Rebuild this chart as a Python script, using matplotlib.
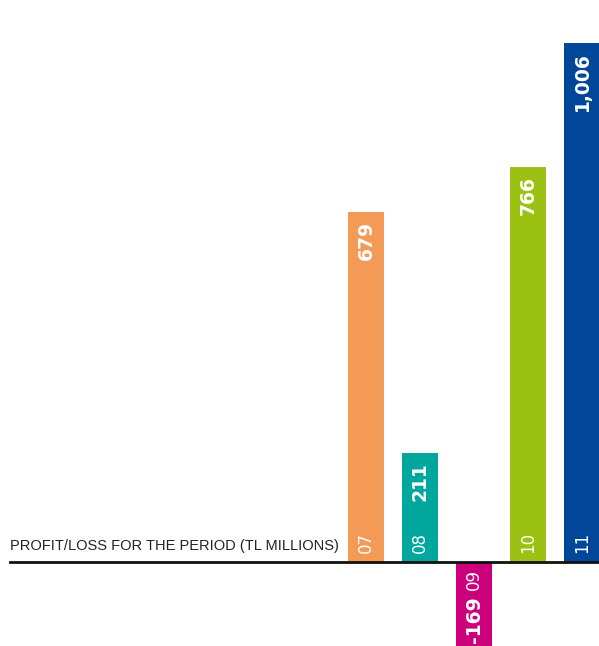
#!/usr/bin/env python3
import matplotlib
matplotlib.use("Agg")
import matplotlib.pyplot as plt

# profit/loss for the period, TL millions
years = ["07", "08", "09", "10", "11"]
values = [679, 211, -169, 766, 1006]
value_labels = ["679", "211", "-169", "766", "1,006"]
colors = ["#F39A57", "#00A79D", "#CC007A", "#9BC212", "#00479A"]
title = "PROFIT/LOSS FOR THE PERIOD (TL MILLIONS)"

W, H = 599, 646
BASE_PX = 562          # baseline, px from top
PX_PER_UNIT = 0.516    # vertical scale
BAR_STEP = 54          # px between bar centres
FIRST_CENTER = 366     # px of first bar centre


def main():
    fig = plt.figure(figsize=(W / 100, H / 100), dpi=100)
    ax = fig.add_axes([0, 0, 1, 1])
    ax.set_axis_off()

    ax.set_xlim(-FIRST_CENTER / BAR_STEP, (W - FIRST_CENTER) / BAR_STEP)
    ax.set_ylim(-(H - BASE_PX) / PX_PER_UNIT, BASE_PX / PX_PER_UNIT)

    xs = list(range(len(years)))
    ax.bar(xs, values, width=36 / BAR_STEP, color=colors, zorder=2)
    ax.axhline(0, xmin=10 / W, xmax=1, color="#111111", lw=2, zorder=3)

    gap = 9 / PX_PER_UNIT
    for x, v, lab, yr in zip(xs, values, value_labels, years):
        if v >= 0:
            ax.text(x, v - gap, lab, rotation=90, ha="center", va="top",
                    color="white", fontsize=13.5, fontweight="bold", zorder=4)
            ax.text(x, gap, yr, rotation=90, ha="center", va="bottom",
                    color="white", fontsize=12, zorder=4)
        else:
            ax.text(x, -7 / PX_PER_UNIT, yr, rotation=90, ha="center", va="top",
                    color="white", fontsize=12, zorder=4)
            ax.text(x, -81 / PX_PER_UNIT, lab, rotation=90, ha="center",
                    va="bottom", color="white", fontsize=13.5,
                    fontweight="bold", zorder=4)

    ax.text(10 / W, (H - 553) / H, title, transform=ax.transAxes,
            ha="left", va="bottom", fontsize=10.5, color="#222222",
            family=["Liberation Sans", "DejaVu Sans"])

    fig.savefig("out.png", dpi=100)


if __name__ == "__main__":
    main()
